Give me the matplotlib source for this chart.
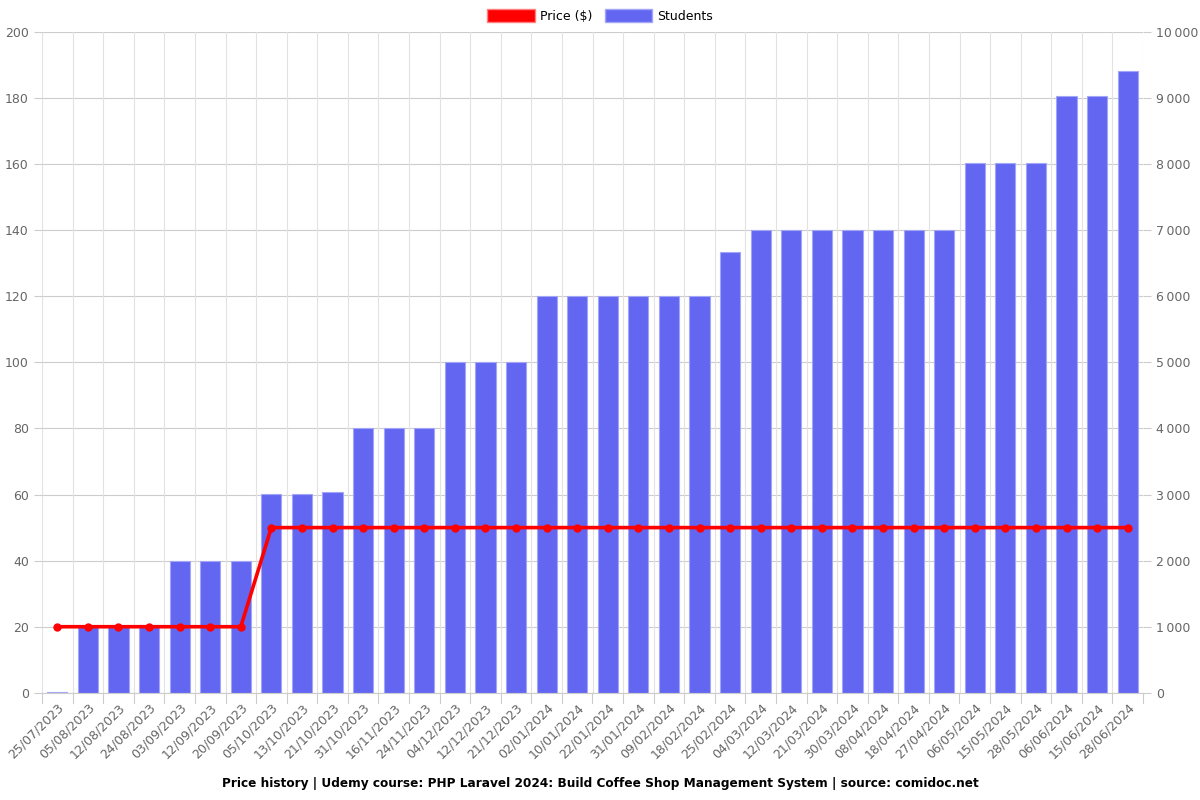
import matplotlib
matplotlib.use("Agg")
import matplotlib.pyplot as plt
from matplotlib.patches import Patch
from matplotlib.ticker import FuncFormatter, MultipleLocator

dates = ["25/07/2023", "05/08/2023", "12/08/2023", "24/08/2023", "03/09/2023", "12/09/2023",
         "20/09/2023", "05/10/2023", "13/10/2023", "21/10/2023", "31/10/2023", "16/11/2023",
         "24/11/2023", "04/12/2023", "12/12/2023", "21/12/2023", "02/01/2024", "10/01/2024",
         "22/01/2024", "31/01/2024", "09/02/2024", "18/02/2024", "25/02/2024", "04/03/2024",
         "12/03/2024", "21/03/2024", "30/03/2024", "08/04/2024", "18/04/2024", "27/04/2024",
         "06/05/2024", "15/05/2024", "28/05/2024", "06/06/2024", "15/06/2024", "28/06/2024"]
students = [10, 1000, 1000, 1030, 2000, 2000, 2000, 3010, 3010, 3040, 4010, 4010, 4010,
            5010, 5010, 5010, 6010, 6010, 6010, 6010, 6010, 6010, 6670, 7010, 7010, 7010,
            7010, 7010, 7010, 7010, 8020, 8020, 8020, 9030, 9030, 9410]
price = [20, 20, 20, 20, 20, 20, 20] + [50] * 29

title = "Price history | Udemy course: PHP Laravel 2024: Build Coffee Shop Management System | source: comidoc.net"

FS = 9
fig = plt.figure(figsize=(12, 8), dpi=100)
ax = fig.add_axes([0.035, 0.134, 0.9175, 0.826])
ax2 = ax.twinx()

x = list(range(len(dates)))
ax2.bar(x, students, width=0.66, color="#6366F1", edgecolor="#a3a5f6", linewidth=0.8, zorder=2)
ax2.set_ylim(0, 10000)
ax2.yaxis.set_major_locator(MultipleLocator(1000))
ax2.yaxis.set_major_formatter(FuncFormatter(lambda v, p: f"{int(v):,}".replace(",", "\u2009")))

ax.set_zorder(ax2.get_zorder() + 1)
ax.patch.set_visible(False)
ax.plot(x, price, color="#ff0000", linewidth=2.6, marker="o", markersize=5, zorder=5)
ax.set_ylim(0, 200)
ax.yaxis.set_major_locator(MultipleLocator(20))
ax.set_xlim(-0.5, len(dates) - 0.5)

# grids
ax2.grid(False)
for v in range(0, 201, 20):
    ax2.axhline(v * 50, color="#cccccc", linewidth=0.8, zorder=0)
for i in range(len(dates) + 1):
    ax2.axvline(i - 0.5, color="#e2e2e2", linewidth=0.8, zorder=0)

ax.set_xticks(x)
ax.set_xticklabels(dates, rotation=45, ha="right", rotation_mode="anchor")
ax.tick_params(axis="x", length=0, pad=6, labelsize=FS, labelcolor="#666666")
ax.tick_params(axis="y", length=6, color="#cccccc", labelsize=FS, labelcolor="#666666")
ax2.tick_params(axis="y", length=6, color="#cccccc", labelsize=FS, labelcolor="#666666")
ax2.set_xticks(x)

for a in (ax, ax2):
    for s in a.spines.values():
        s.set_visible(False)
ax.spines["bottom"].set_visible(True)
ax.spines["bottom"].set_color("#cccccc")

# boundary tick marks below axis
for i in range(len(dates) + 1):
    ax.plot([i - 0.5, i - 0.5], [0, -3], color="#cccccc", linewidth=0.8, clip_on=False, zorder=1)

handles = [Patch(facecolor="#ff0000", edgecolor="#ff8080", label="Price ($)"),
           Patch(facecolor="#6366F1", edgecolor="#a3a5f6", label="Students")]
fig.legend(handles=handles, loc="center", bbox_to_anchor=(0.5, 0.98), ncol=2, frameon=False,
           handlelength=3.8, handleheight=1.2, columnspacing=1.0, handletextpad=0.4, fontsize=FS)

fig.text(0.5, 0.021, title, ha="center", va="center", fontsize=8.7, fontweight="bold")

fig.savefig("out.png", dpi=100)
